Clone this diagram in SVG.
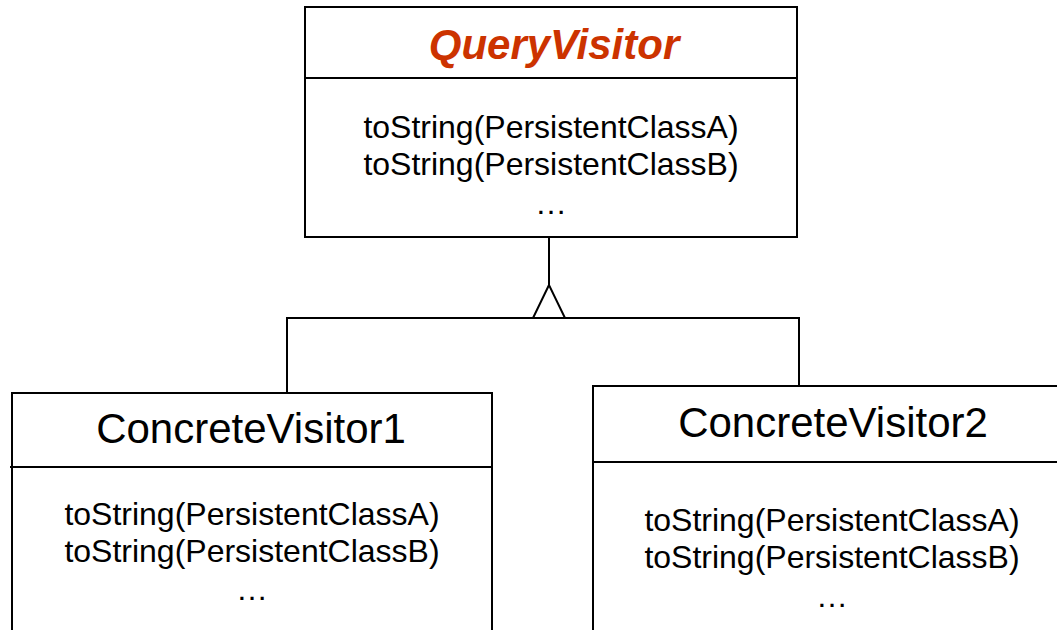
<svg xmlns="http://www.w3.org/2000/svg" width="1057" height="630" viewBox="0 0 1057 630">
<style>
.box{fill:#fff;stroke:#000;stroke-width:2}
.ln{stroke:#000;stroke-width:2;fill:none}
.t{font-family:"Liberation Sans",Arial,sans-serif;fill:#000;text-anchor:middle}
.m{font-size:32px}
.h{font-size:42px}
.abs{font-size:42px;font-weight:bold;font-style:italic;fill:#cc3300}
</style>
<rect width="1057" height="630" fill="#fff"/>
<g id="connectors">
<line class="ln" x1="549" y1="237" x2="549" y2="285"/>
<polygon class="ln" points="549,285 533,318 565,318"/>
<polyline class="ln" points="287,393 287,318 799,318 799,386"/>
</g>
<g id="QueryVisitor">
<rect class="box" x="305" y="7" width="492" height="230"/>
<line class="ln" x1="304" y1="78" x2="797" y2="78"/>
<text class="t abs" x="554" y="59">QueryVisitor</text>
<text class="t m" x="551" y="138">toString(PersistentClassA)</text>
<text class="t m" x="551" y="175">toString(PersistentClassB)</text>
<text class="t m" x="551" y="214">…</text>
</g>
<g id="ConcreteVisitor1">
<rect class="box" x="12" y="393" width="480" height="250"/>
<line class="ln" x1="10" y1="467" x2="492" y2="467"/>
<text class="t h" x="251" y="443">ConcreteVisitor1</text>
<text class="t m" x="252" y="525">toString(PersistentClassA)</text>
<text class="t m" x="252" y="562">toString(PersistentClassB)</text>
<text class="t m" x="252" y="600">…</text>
</g>
<g id="ConcreteVisitor2">
<rect class="box" x="593" y="386" width="480" height="260"/>
<line class="ln" x1="593" y1="462" x2="1073" y2="462"/>
<text class="t h" x="833" y="437">ConcreteVisitor2</text>
<text class="t m" x="832" y="531">toString(PersistentClassA)</text>
<text class="t m" x="832" y="568">toString(PersistentClassB)</text>
<text class="t m" x="832" y="607">…</text>
</g>
</svg>
